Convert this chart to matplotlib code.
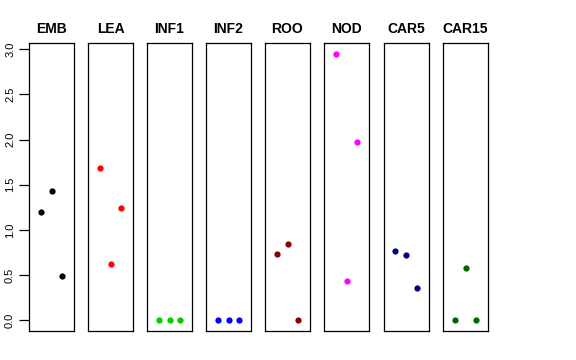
import matplotlib
matplotlib.use("Agg")
import matplotlib.pyplot as plt

tissues = ["EMB", "LEA", "INF1", "INF2", "ROO", "NOD", "CAR5", "CAR15"]
colors = ["black", "red", "#00CD00", "blue", "#8B0000", "magenta", "#00008B", "#006400"]
EMB = [1.20, 1.43, 0.49]
LEA = [1.68, 0.62, 1.24]
INF1 = [0.0, 0.0, 0.0]
INF2 = [0.0, 0.0, 0.0]
ROO = [0.73, 0.84, 0.0]
NOD = [2.95, 0.43, 1.97]
CAR5 = [0.77, 0.72, 0.36]
CAR15 = [0.0, 0.58, 0.0]
values = [EMB, LEA, INF1, INF2, ROO, NOD, CAR5, CAR15]
yticks = [0.0, 0.5, 1.0, 1.5, 2.0, 2.5, 3.0]

plt.rcParams['font.family'] = ['Liberation Sans', 'DejaVu Sans']
W, H = 576, 360
fig = plt.figure(figsize=(W / 100, H / 100), dpi=100)

ymax = max(max(v) for v in values)
pad = ymax * 0.04
lefts = [29, 88, 147, 206, 265, 324, 383.5, 443]
for i, (name, col, vals) in enumerate(zip(tissues, colors, values)):
    ax = fig.add_axes([lefts[i] / W, 29 / H, 45 / W, 288 / H])
    xs = list(range(1, len(vals) + 1))
    ax.plot(xs, vals, 'o', color=col, markersize=4.5, markeredgewidth=0)
    ax.set_xlim(-0.12, len(vals) + 1.12)
    ax.set_ylim(-pad, ymax + pad)
    ax.set_xticks([])
    for s in ax.spines.values():
        s.set_linewidth(0.9)
        s.set_color('black')
    ax.set_title(name, fontsize=10, fontweight='bold', pad=7)
    if i == 0:
        ax.set_yticks(yticks)
        ax.set_yticklabels([f"{t:.1f}" for t in yticks], rotation=90, va='center', fontsize=8)
        ax.tick_params(axis='y', length=7, width=0.9, pad=3)
    else:
        ax.set_yticks([])

fig.savefig("out.png", dpi=100)
